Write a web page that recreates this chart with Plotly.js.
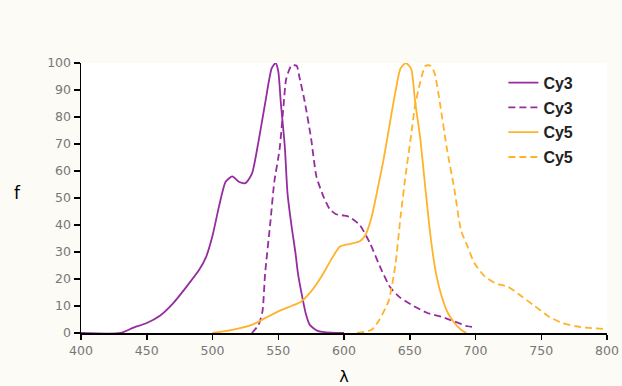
<!DOCTYPE html>
<html>
<head>
<meta charset="utf-8">
<script src="https://cdn.plot.ly/plotly-3.0.1.min.js"></script>
<style>html,body{margin:0;padding:0;background:#fcfbf6;}#chart{width:622px;height:386px;}</style>
</head>
<body>
<div id="chart"></div>
<script>
// Cy3 absorption (solid purple)
const cy3AbsX = [400,430,440,450,460,470,480,490,495,500,505,510,515,520,525,530,535,540,545,548,550,552,555,557,560,563,565,568,571,574,580,590,600];
const cy3AbsY = [0,0,2,3.7,6.4,11,17,23.5,28,36,47,56,58,56,55.5,59,71,85,98,100,97,85,69,52,40,30,22,14,7,3,0.8,0.1,0];
// Cy3 emission (dashed purple)
const cy3EmX = [530,535,538,540,544,547,551,554,556,560,564,566,570,575,579,584,589,594,600,604,612,620,627,635,643,653,663,674,684,694,699];
const cy3EmY = [0,3,8,22,41,56,68,84,94,99,99,95,86,72,58,51,46,44,43.5,43,40,33,25,17,13,10,7.5,6,4.3,2.5,2.2];
// Cy5 absorption (solid orange)
const cy5AbsX = [500,515,530,540,550,560,567,575,583,590,597,605,612,616,621,625,630,635,639,643,647,651,654,658,662,666,670,674,679,684,689,693];
const cy5AbsY = [0,1.2,3,5.5,8,10,11.5,15.4,21,27,32,33,34,36,43,52,64,78,89,98,100,98,86,72,53,35,22,14,7.4,3.7,1.2,0];
// Cy5 emission (dashed orange)
const cy5EmX = [610,621,627,634,639,643,647,651,654,658,662,666,669,673,678,684,689,694,699,707,715,725,735,745,756,766,776,786,799];
const cy5EmY = [0,1.2,5,12,25,43,59,73,84,93,99,99,96,85,69,53,38,32,26,21,18.5,17,13.6,10,6,3.7,2.5,1.9,1.5];

const xTicks = [400,450,500,550,600,650,700,750,800];
const yTicks = [0,10,20,30,40,50,60,70,80,90,100];
const names = ['Cy3','Cy3','Cy5','Cy5'];

const purple = '#952c9f';
const orange = '#ffb22a';

function tr(x, y, name, color, dash, g) {
  return {x: x, y: y, name: name, mode: 'lines', type: 'scatter', legendgroup: g,
    line: {color: color, width: 1.8, dash: dash, shape: 'spline', smoothing: 0.6},
    cliponaxis: false, hoverinfo: 'skip'};
}

const data = [
  tr(cy3AbsX, cy3AbsY, names[0], purple, 'solid', 'a'),
  tr(cy3EmX, cy3EmY, names[1], purple, '7px,4px', 'b'),
  tr(cy5AbsX, cy5AbsY, names[2], orange, 'solid', 'c'),
  tr(cy5EmX, cy5EmY, names[3], orange, '7px,4px', 'd')
];

const tickFont = {family: 'DejaVu Sans, sans-serif', size: 12.5, color: '#777777'};

const layout = {
  width: 622, height: 386,
  margin: {l: 81, r: 15, t: 63, b: 53, pad: 0},
  paper_bgcolor: '#fcfbf6',
  plot_bgcolor: '#ffffff',
  showlegend: true,
  legend: {
    x: 0.803, y: 0.99, xanchor: 'left', yanchor: 'top',
    bgcolor: 'rgba(0,0,0,0)', traceorder: 'grouped', tracegroupgap: 1,
    font: {family: 'Liberation Sans, Arial, sans-serif', size: 16, color: '#222222', weight: 'bold'}
  },
  xaxis: {
    range: [400, 800], tickvals: xTicks, ticktext: xTicks.map(String),
    showgrid: false, zeroline: false, showline: true, linecolor: '#000', linewidth: 1.5,
    ticks: 'outside', ticklen: 5, tickwidth: 1.5, tickcolor: '#000',
    tickfont: tickFont, fixedrange: true,
    title: {text: 'λ', font: {family: 'DejaVu Sans, sans-serif', size: 16, color: '#000'}, standoff: 16}
  },
  yaxis: {
    range: [0, 100], tickvals: yTicks, ticktext: yTicks.map(String),
    showgrid: false, zeroline: false, showline: true, linecolor: '#000', linewidth: 1.5,
    ticks: 'outside', ticklen: 6, tickwidth: 1.5, tickcolor: '#000',
    tickfont: tickFont, fixedrange: true
  },
  annotations: [{
    text: 'f', xref: 'paper', yref: 'paper', x: -0.12, y: 0.518,
    xanchor: 'center', yanchor: 'middle', showarrow: false,
    font: {family: 'DejaVu Sans, sans-serif', size: 17, color: '#000'}
  }]
};

Plotly.newPlot('chart', data, layout, {displayModeBar: false, staticPlot: true});
</script>
</body>
</html>
